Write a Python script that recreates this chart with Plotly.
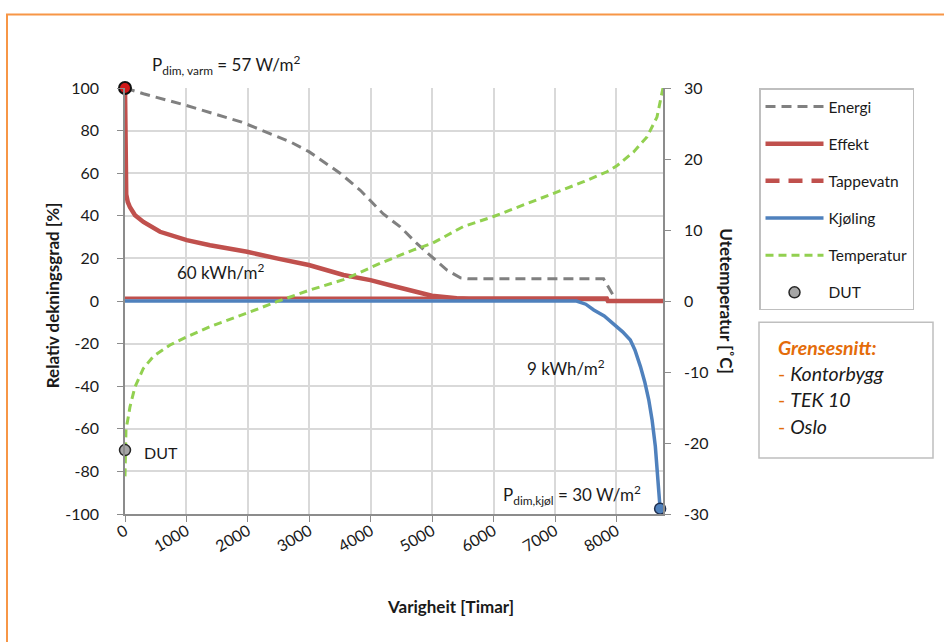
import plotly.graph_objects as go

# Duration curves over the year (hours sorted by load)
energi_h = [0, 300, 1000, 1900, 2700, 3000, 3500, 3830, 4200, 4480, 4750, 4970, 5240, 5460, 5600, 7790, 7950, 8000, 8757]
energi_v = [100, 97.3, 91.8, 84, 74.6, 70, 60, 52, 41, 34.8, 27, 21.5, 14.5, 10.9, 10.4, 10.4, 2, 0, 0]

effekt_h = [0, 2, 8, 20, 45, 81, 163, 300, 570, 1005, 1384, 1987, 2470, 2992, 3556, 3995, 4316, 4696, 4995, 5400, 5600, 7840, 7860, 8757]
effekt_v = [100, 70, 56, 50, 46.5, 44, 40.3, 37.1, 32.5, 28.6, 26.2, 23.1, 20, 16.9, 12.2, 9.8, 7.4, 4.4, 2.5, 1.3, 1.1, 1.1, 0, 0]

tapp_h = [0, 7850, 7870, 8757]
tapp_v = [1.4, 1.4, 0, 0]

kjol_h = [0, 7350, 7500, 7630, 7800, 7950, 8100, 8225, 8300, 8390, 8460, 8525, 8580, 8632, 8670, 8690, 8710]
kjol_v = [0, 0, -1.5, -4.2, -7, -10.5, -14.5, -18.3, -23, -30.8, -38, -46.4, -56, -68.2, -80, -90, -97.5]

temp_h = [0, 3, 8, 16, 54, 81, 163, 298, 461, 733, 993, 1384, 1987, 2470, 2992, 3556, 4153, 4696, 4995,
          5510, 5999, 6487, 6992, 7465, 7845, 8000, 8279, 8496, 8659, 8741, 8757]
temp_v = [-24.7, -23, -20.5, -18.1, -16.3, -14.9, -12.1, -9.5, -7.8, -6.2, -5.1, -3.6, -1.7, -0.1, 1.5, 3.0,
          5.3, 7.2, 8.1, 10.5, 11.9, 13.5, 15.2, 16.8, 18.2, 19, 21, 23.1, 25.9, 29.5, 30]

# Design points
varm_pt = (0, 100)
kjol_pt = (8710, -97.5)
dut_pt = (0, -21)          # outdoor design temperature, right axis [°C]

x_ticks = [0, 1000, 2000, 3000, 4000, 5000, 6000, 7000, 8000]
y_ticks = [-100, -80, -60, -40, -20, 0, 20, 40, 60, 80, 100]
y2_ticks = [-30, -20, -10, 0, 10, 20, 30]

FONT = "Lato"
TXT = "#1a1a1a"
GRID = "#D9D9D9"
AXIS = "#8C8C8C"

fig = go.Figure()

fig.add_trace(go.Scatter(x=energi_h, y=energi_v, name="Energi", mode="lines", legendgroup="a",
                         line=dict(color="#808080", width=3, dash="10px,6px")))
fig.add_trace(go.Scatter(x=effekt_h, y=effekt_v, name="Effekt", mode="lines", legendgroup="b",
                         line=dict(color="#C0504D", width=4.5)))
fig.add_trace(go.Scatter(x=tapp_h, y=tapp_v, name="Tappevatn", mode="lines", legendgroup="c",
                         showlegend=False, line=dict(color="#C0504D", width=3)))
fig.add_trace(go.Scatter(x=[None], y=[None], name="Tappevatn", mode="lines", legendgroup="c",
                         line=dict(color="#C0504D", width=4.5, dash="14px,9px")))
fig.add_trace(go.Scatter(x=kjol_h, y=kjol_v, name="Kjøling", mode="lines", legendgroup="d",
                         line=dict(color="#4F81BD", width=3.5)))
fig.add_trace(go.Scatter(x=temp_h, y=temp_v, name="Temperatur", mode="lines", legendgroup="e",
                         yaxis="y2", line=dict(color="#92D050", width=3, dash="8px,5px")))
fig.add_trace(go.Scatter(x=[dut_pt[0]], y=[dut_pt[1]], name="DUT", mode="markers", legendgroup="f",
                         yaxis="y2", cliponaxis=False,
                         marker=dict(color="#A6A6A6", size=11, line=dict(color="#262626", width=1.5))))
fig.add_trace(go.Scatter(x=[varm_pt[0]], y=[varm_pt[1]], mode="markers", showlegend=False, cliponaxis=False,
                         marker=dict(color="#D01818", size=12, line=dict(color="#111111", width=2))))
fig.add_trace(go.Scatter(x=[kjol_pt[0]], y=[kjol_pt[1]], mode="markers", showlegend=False, cliponaxis=False,
                         marker=dict(color="#4F81BD", size=11, line=dict(color="#1F2F4F", width=1.5))))

L, R, T, B = 125, 281, 87.5, 128
W, H = 944, 642
pw, ph = W - L - R, H - T - B


def px(xp):
    return (xp - L) / pw


def py(yp):
    return (H - B - yp) / ph


annos = [
    dict(x=px(226), y=py(64), text="P<sub>dim, varm</sub> = 57 W/m<sup>2</sup>", font=dict(size=17)),
    dict(x=1563, y=14, xref="x", yref="y", text="60 kWh/m<sup>2</sup>", font=dict(size=17)),
    dict(x=7182, y=-31.4, xref="x", yref="y", text="9 kWh/m<sup>2</sup>", font=dict(size=17)),
    dict(x=px(572), y=py(495), text="P<sub>dim,kjøl</sub> = 30 W/m<sup>2</sup>", font=dict(size=17)),
    dict(x=px(142), y=py(452), text="DUT", xanchor="left", font=dict(size=16)),
    dict(x=px(52), y=py(295), text="<b>Relativ dekningsgrad [%]</b>", textangle=-90, font=dict(size=17)),
    dict(x=px(727), y=py(300), text="<b>Utetemperatur [˚C]</b>", textangle=90, font=dict(size=17)),
    dict(x=px(450), y=py(607), text="<b>Varigheit [Timar]</b>", font=dict(size=17)),
    dict(x=px(776), y=py(347), xanchor="left", text="<b><i>Grensesnitt:</i></b>",
         font=dict(size=19.5, color="#E46C0A")),
]
for yy, t in [(373, "Kontorbygg"), (399, "TEK 10"), (426, "Oslo")]:
    annos.append(dict(x=px(776), y=py(yy), xanchor="left",
                      text=f"<span style='color:#E46C0A'>-</span> <i>{t}</i>", font=dict(size=19.5)))
for a in annos:
    a.setdefault("showarrow", False)
    a.setdefault("xref", "paper")
    a.setdefault("yref", "paper")
    a.setdefault("xanchor", "center")
    a.setdefault("yanchor", "middle")
    a["font"].setdefault("color", TXT)
    a["font"]["family"] = FONT

shapes = [
    # outer frame
    dict(type="rect", xref="paper", yref="paper", x0=px(7), x1=px(1100), y0=py(800), y1=py(14),
         line=dict(color="#F79646", width=2), layer="below"),
    # info box
    dict(type="rect", xref="paper", yref="paper", x0=px(759), x1=px(933), y0=py(458), y1=py(322),
         line=dict(color="#BFBFBF", width=1.5)),
]

fig.update_layout(
    width=W, height=H,
    margin=dict(l=L, r=R, t=T, b=B, pad=0),
    paper_bgcolor="white", plot_bgcolor="white",
    font=dict(family=FONT, size=16, color=TXT),
    showlegend=True,
    legend=dict(x=px(759), y=py(88), xanchor="left", yanchor="top",
                bordercolor="#BFBFBF", borderwidth=1.5, bgcolor="white",
                font=dict(size=15.5, family=FONT, color=TXT),
                itemwidth=58, tracegroupgap=14, traceorder="grouped"),
    xaxis=dict(range=[0, 8757], tickvals=x_ticks, ticktext=[str(v) for v in x_ticks],
               tickangle=-30, showgrid=True, gridcolor=GRID, gridwidth=1.5,
               showline=True, linecolor=AXIS, linewidth=1.5, zeroline=False, ticklabelstandoff=-6,
               ticks="outside", ticklen=6, tickcolor=AXIS, tickfont=dict(size=16)),
    yaxis=dict(range=[-100, 100], tickvals=y_ticks, ticktext=[str(v) for v in y_ticks],
               showgrid=True, gridcolor=GRID, gridwidth=1.5,
               showline=True, linecolor=AXIS, linewidth=1.5, zeroline=False, ticklabelstandoff=15,
               ticks="outside", ticklen=6, tickcolor=AXIS, tickfont=dict(size=16)),
    yaxis2=dict(range=[-30, 30], tickvals=y2_ticks, ticktext=[str(v) for v in y2_ticks],
                overlaying="y", side="right", showgrid=False,
                showline=True, linecolor=AXIS, linewidth=1.5, zeroline=False, ticklabelstandoff=10,
                ticks="outside", ticklen=6, tickcolor=AXIS, tickfont=dict(size=16)),
    annotations=annos,
    shapes=shapes,
)

fig.write_html("out.html")
